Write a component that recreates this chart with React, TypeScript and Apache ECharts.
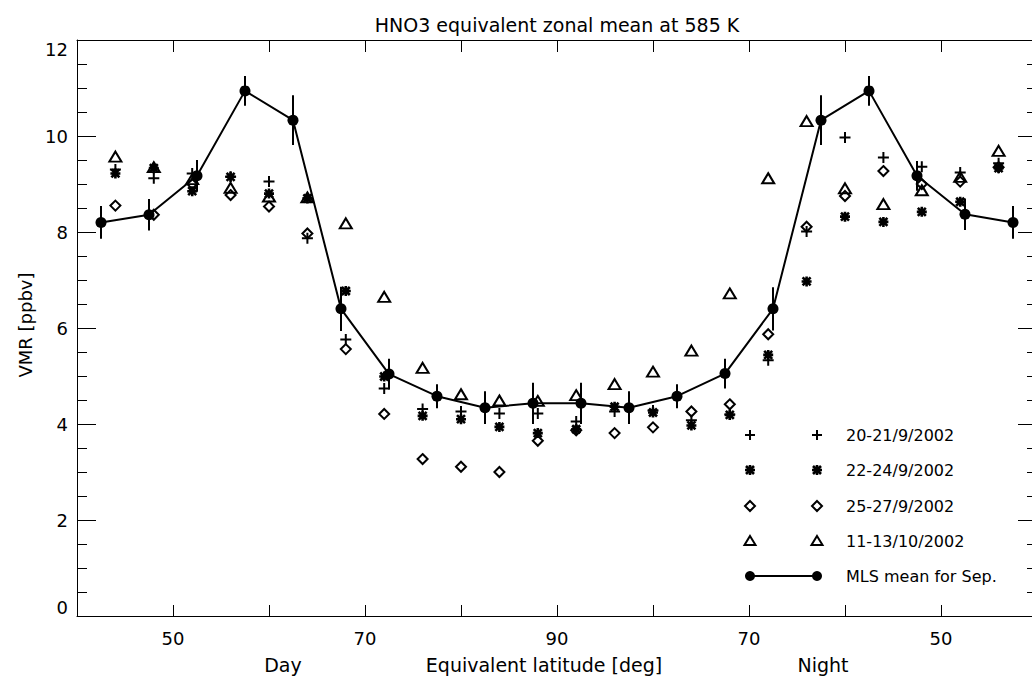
import React, { useEffect, useRef } from "react";
import * as echarts from "echarts";

// ---- data ----
// Equivalent-latitude axis: 40..90 = Day side (lat), 90..140 = Night side (lat = 180 - x)
const xMean = [42.5, 47.5, 52.5, 57.5, 62.5, 67.5, 72.5, 77.5, 82.5, 87.5,
  92.5, 97.5, 102.5, 107.5, 112.5, 117.5, 122.5, 127.5, 132.5, 137.5];
const meanVals = [8.2, 8.36, 9.17, 10.94, 10.33, 6.4, 5.04, 4.58, 4.34, 4.43,
  4.43, 4.34, 4.58, 5.05, 6.4, 10.33, 10.94, 9.17, 8.37, 8.2];
const meanErr = [0.34, 0.33, 0.33, 0.31, 0.52, 0.46, 0.32, 0.25, 0.34, 0.43,
  0.43, 0.34, 0.25, 0.31, 0.45, 0.52, 0.31, 0.31, 0.33, 0.34];

const xObs = [44, 48, 52, 56, 60, 64, 68, 72, 76, 80, 84, 88,
  92, 96, 100, 104, 108, 112, 116, 120, 124, 128, 132, 136];
const obs20_21Sep = [9.3, 9.12, 9.22, 9.15, 9.05, 7.87, 5.76, 4.74, 4.31, 4.26, 4.22, 4.22,
  4.05, 4.26, 4.28, 4.08, 4.2, 5.33, 8.01, 9.97, 9.55, 9.36, 9.24, 9.43];
const obs22_24Sep = [9.22, 9.33, 8.85, 9.15, 8.8, 8.7, 6.77, 4.99, 4.17, 4.1, 3.94, 3.81,
  3.89, 4.36, 4.24, 3.97, 4.19, 5.44, 6.97, 8.32, 8.21, 8.42, 8.63, 9.33];
const obs25_27Sep = [8.55, 8.36, 9.0, 8.77, 8.53, 7.97, 5.56, 4.21, 3.27, 3.11, 3.0, 3.65,
  3.87, 3.81, 3.93, 4.26, 4.41, 5.87, 8.11, 8.75, 9.27, 9.0, 9.05, 9.35];
const obs11_13Oct = [9.57, 9.35, 9.1, 8.92, 8.74, 8.72, 8.18, 6.65, 5.17, 4.62, 4.49, 4.48,
  4.6, 4.83, 5.09, 5.53, 6.72, 9.12, 10.31, 8.91, 8.58, 8.87, 9.15, 9.69];

const xTickLabels: Record<number, string> = { 50: "50", 70: "70", 90: "90", 110: "70", 130: "50" };
const legendNames = ["20-21/9/2002", "22-24/9/2002", "25-27/9/2002", "11-13/10/2002", "MLS mean for Sep."];

// ---- symbols ----
const PLUS = "M-5,0L5,0M0,-5L0,5";
const AST = "M0,-5L0,5M-5,0L5,0M-4,-4L4,4M4,-4L-4,4";
const DIAMOND = "M0,-5L5,0L0,5L-5,0Z";
const TRI = "M0,-5L5.5,4L-5.5,4Z";

echarts.graphic.registerShape("mkPlus", echarts.graphic.extendPath(PLUS, {}));
echarts.graphic.registerShape("mkAst", echarts.graphic.extendPath(AST, {}));
echarts.graphic.registerShape("mkDiamond", echarts.graphic.extendPath(DIAMOND, {}));
echarts.graphic.registerShape("mkTri", echarts.graphic.extendPath(TRI, {}));

const FONT = "DejaVu Sans";
const INK = "#000";

function pairs(ys: number[]) {
  return xObs.map((x, i) => [x, ys[i]]);
}

function scatter(name: string, path: string, ys: number[], size: number | number[], bw = 2) {
  return {
    name,
    type: "scatter",
    symbol: "path://" + path,
    symbolSize: size,
    data: pairs(ys),
    itemStyle: { color: "none", borderColor: INK, borderWidth: bw, opacity: 1 },
    z: 2,
  };
}

function buildOption() {
  const legendRowsY = [435, 470, 506, 541, 576];
  const shapes = ["mkPlus", "mkAst", "mkDiamond", "mkTri"];
  const widths = [2, 2.6, 2, 2];
  const legendEls: any[] = [];
  for (let i = 0; i < 4; i++) {
    for (const cx of [750, 817]) {
      legendEls.push({
        type: shapes[i],
        x: cx,
        y: legendRowsY[i],
        style: { fill: "none", stroke: INK, lineWidth: widths[i] },
      });
    }
  }
  legendEls.push({
    type: "line",
    shape: { x1: 750, y1: legendRowsY[4], x2: 817, y2: legendRowsY[4] },
    style: { stroke: INK, lineWidth: 2 },
  });
  for (const cx of [750, 817]) {
    legendEls.push({ type: "circle", shape: { cx, cy: legendRowsY[4], r: 5 }, style: { fill: INK } });
  }
  legendNames.forEach((t, i) => {
    legendEls.push({
      type: "text",
      x: 846,
      y: legendRowsY[i],
      style: { text: t, font: `16px "${FONT}"`, fill: INK, align: "left", verticalAlign: "middle" },
    });
  });

  const textEl = (t: string, x: number, y: number, size: number, rotation = 0) => ({
    type: "text",
    x,
    y,
    rotation,
    style: { text: t, font: `${size}px "${FONT}"`, fill: INK, align: "center", verticalAlign: "middle" },
  });

  const axisCommon = {
    axisLine: { show: true, onZero: false, lineStyle: { color: INK, width: 1 } },
    splitLine: { show: false },
  };

  return {
    animation: false,
    backgroundColor: "#fff",
    grid: { left: 77, top: 40, width: 960, height: 576, containLabel: false },
    xAxis: [
      {
        type: "value",
        min: 40,
        max: 140,
        interval: 10,
        position: "bottom",
        ...axisCommon,
        axisTick: { show: true, inside: true, length: 11, lineStyle: { color: INK } },
        axisLabel: {
          show: true,
          margin: 13,
          fontSize: 18,
          fontFamily: FONT,
          color: INK,
          formatter: (v: number) => xTickLabels[v] ?? "",
        },
      },
      {
        type: "value",
        min: 40,
        max: 140,
        interval: 10,
        position: "top",
        ...axisCommon,
        axisTick: { show: true, inside: true, length: 12, lineStyle: { color: INK } },
        axisLabel: { show: false },
      },
    ],
    yAxis: [
      {
        type: "value",
        min: 0,
        max: 12,
        interval: 2,
        position: "left",
        ...axisCommon,
        axisTick: { show: true, inside: true, length: 19, lineStyle: { color: INK } },
        minorTick: { show: true, splitNumber: 4, length: 10, lineStyle: { color: INK } },
        axisLabel: {
          show: true,
          margin: 9,
          fontSize: 18,
          fontFamily: FONT,
          color: INK,
          verticalAlignMinLabel: "bottom",
          verticalAlignMaxLabel: "top",
        },
      },
      {
        type: "value",
        min: 0,
        max: 12,
        interval: 2,
        position: "right",
        ...axisCommon,
        axisTick: { show: true, inside: true, length: 19, lineStyle: { color: INK } },
        minorTick: { show: true, splitNumber: 4, length: 10, lineStyle: { color: INK } },
        axisLabel: { show: false },
      },
    ],
    series: [
      scatter(legendNames[0], PLUS, obs20_21Sep, 11),
      scatter(legendNames[1], AST, obs22_24Sep, 10, 2.6),
      scatter(legendNames[2], DIAMOND, obs25_27Sep, 10),
      scatter(legendNames[3], TRI, obs11_13Oct, [12, 10]),
      {
        name: "MLS error",
        type: "custom",
        data: xMean.map((x, i) => [x, meanVals[i], meanErr[i]]),
        encode: { x: 0, y: 1 },
        renderItem: (_p: any, api: any) => {
          const x = api.value(0);
          const y = api.value(1);
          const e = api.value(2);
          const a = api.coord([x, y - e]);
          const b = api.coord([x, y + e]);
          return {
            type: "line",
            shape: { x1: a[0], y1: a[1], x2: b[0], y2: b[1] },
            style: { stroke: INK, lineWidth: 2 },
          };
        },
        z: 3,
      },
      {
        name: legendNames[4],
        type: "line",
        data: xMean.map((x, i) => [x, meanVals[i]]),
        symbol: "circle",
        symbolSize: 11,
        showSymbol: true,
        itemStyle: { color: INK },
        lineStyle: { color: INK, width: 2 },
        z: 4,
      },
    ],
    graphic: [
      textEl("HNO3 equivalent zonal mean at 585 K", 557, 25, 19),
      textEl("VMR [ppbv]", 25, 325, 18, Math.PI / 2),
      textEl("Day", 283, 665, 19),
      textEl("Equivalent latitude [deg]", 544, 665, 19),
      textEl("Night", 823, 665, 19),
      ...legendEls,
    ],
  };
}

export default function App() {
  const ref = useRef<HTMLDivElement>(null);
  useEffect(() => {
    if (!ref.current) return;
    const chart = echarts.init(ref.current, null, { renderer: "svg" });
    chart.setOption(buildOption() as any);
    return () => chart.dispose();
  }, []);
  return (
    <div
      style={{
        position: "absolute",
        left: 0,
        top: 0,
        width: 1032,
        height: 677,
        overflow: "hidden",
        background: "#fff",
      }}
    >
      <div ref={ref} style={{ width: 1045, height: 677 }} />
    </div>
  );
}
